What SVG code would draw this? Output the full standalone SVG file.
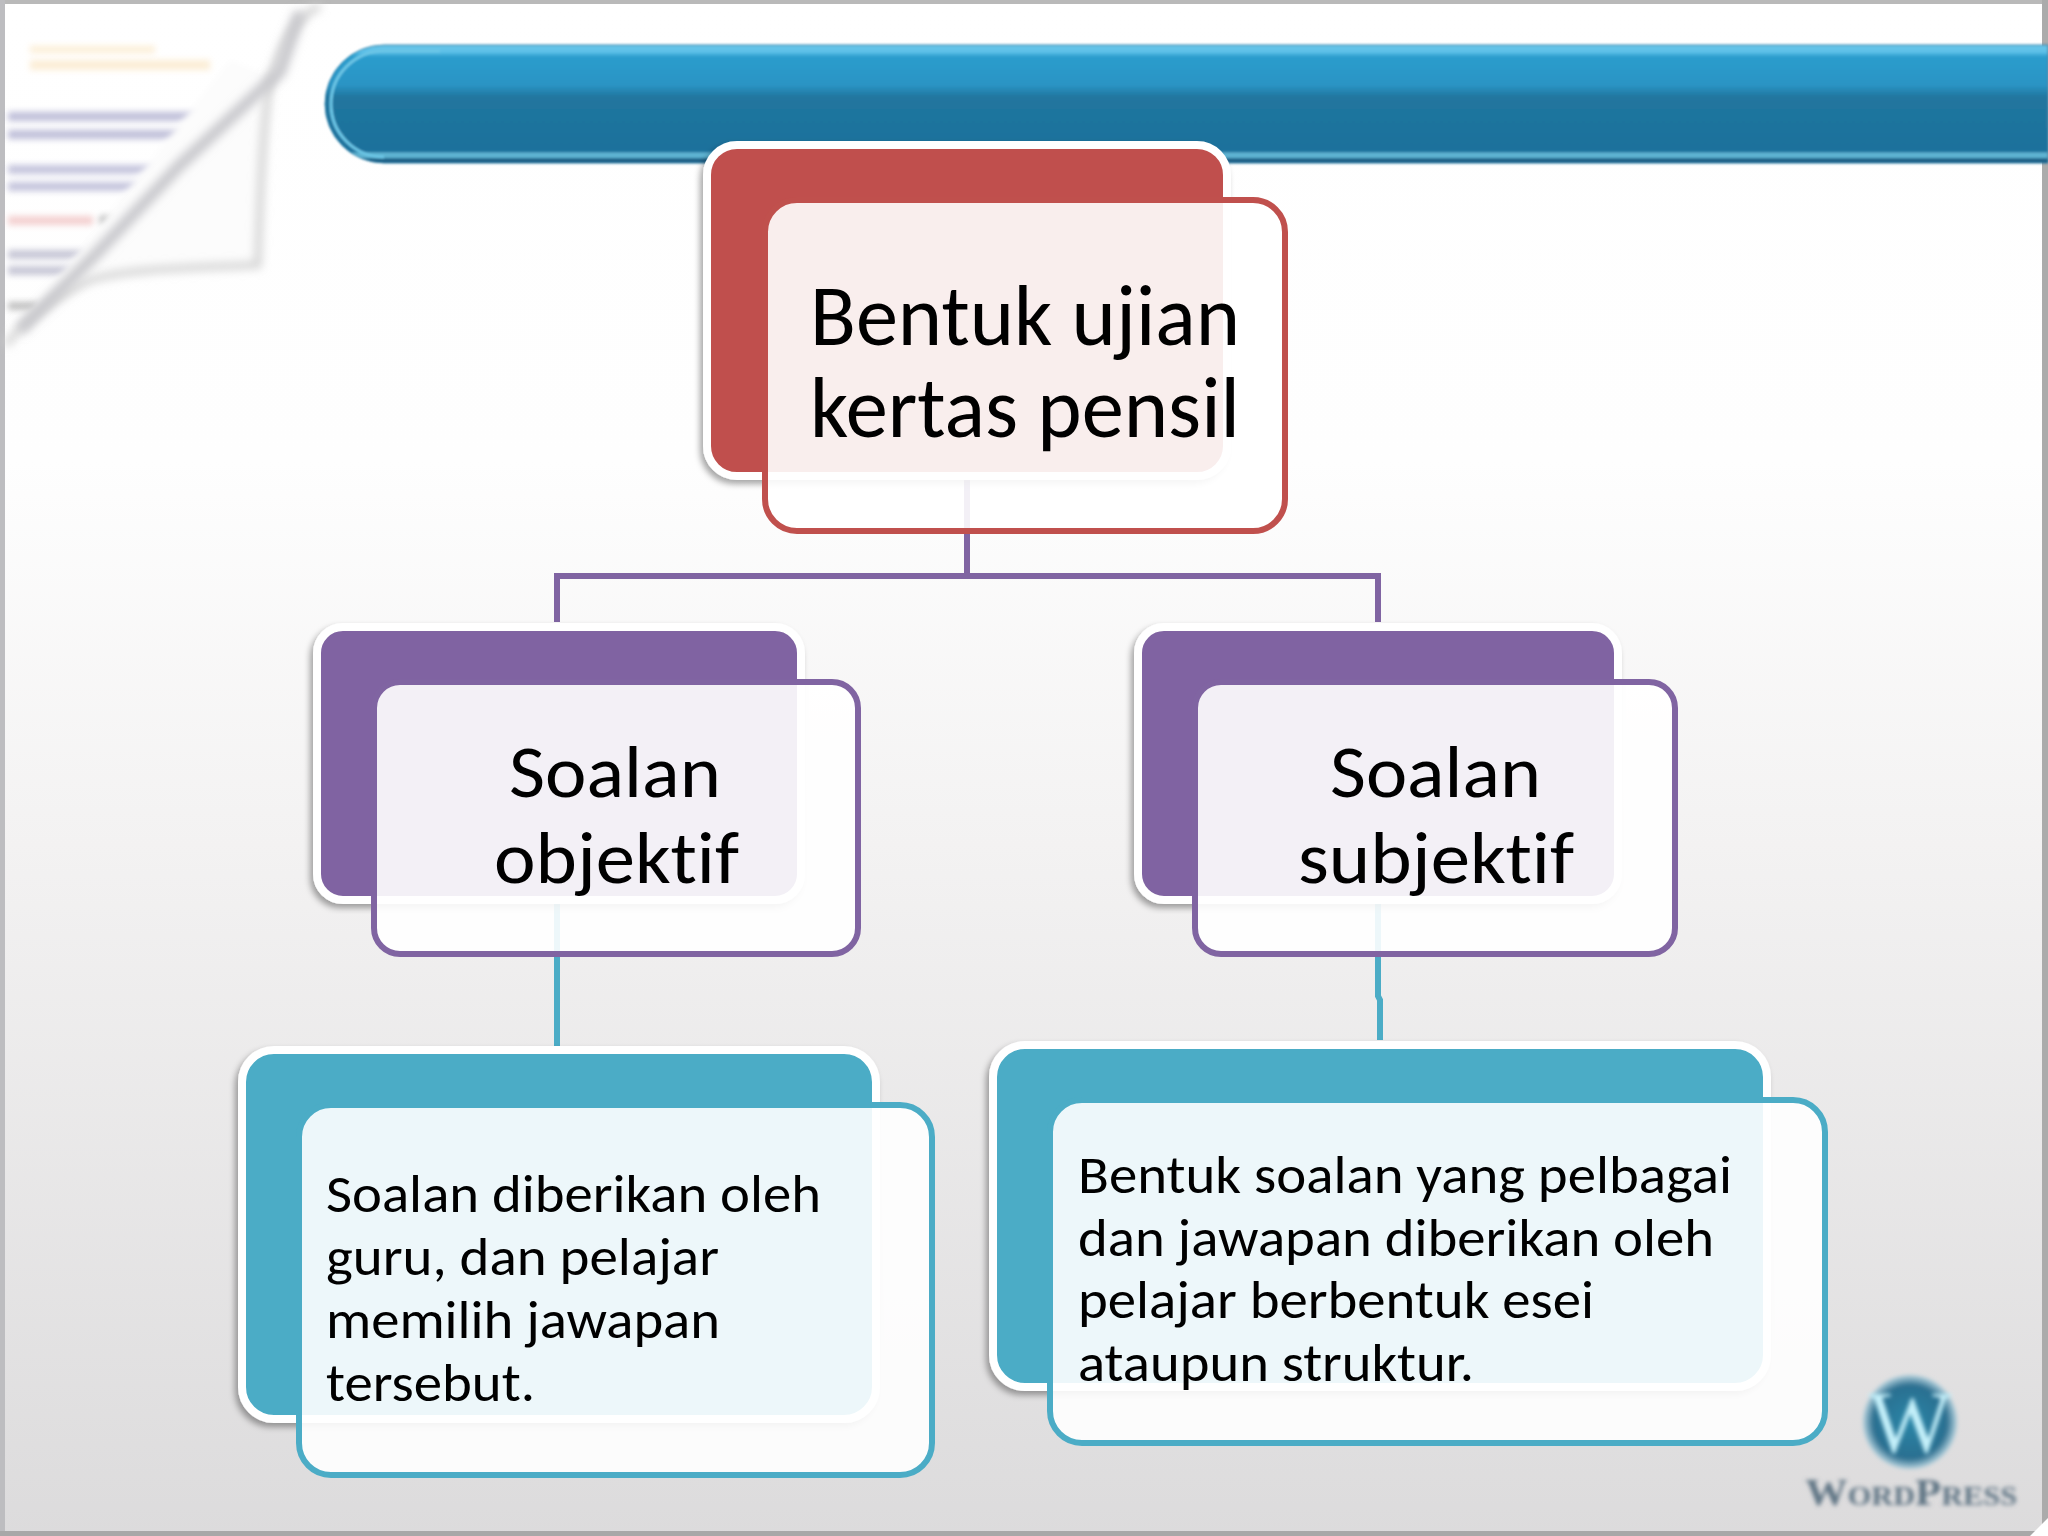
<svg xmlns="http://www.w3.org/2000/svg" width="2048" height="1536" viewBox="0 0 2048 1536">
<style>
.back{stroke:#fff;stroke-width:8}
.front{fill:#fff;fill-opacity:.9;stroke-width:6}
.red{fill:#c0504d}.pur{fill:#8064a2}.teal{fill:#4bacc6}
.sred{stroke:#c0504d}.spur{stroke:#8064a2}.steal{stroke:#4bacc6}
.t{font-family:Carlito,Calibri,Lato,"Open Sans",sans-serif;fill:#000;font-variant-ligatures:none}
.t1{font-size:87px}.t2{font-size:73px}.t3{font-size:54px}
.conn{fill:none;stroke-width:6}
</style>
<defs>
<linearGradient id="bg" x1="0" y1="0" x2="0" y2="1"><stop offset="0" stop-color="#fff"/><stop offset=".3" stop-color="#fefefe"/><stop offset=".55" stop-color="#f3f2f2"/><stop offset="1" stop-color="#dcdbdc"/></linearGradient>
<linearGradient id="ban" x1="0" y1="0" x2="0" y2="1"><stop offset="0" stop-color="#6cc6e8"/><stop offset=".06" stop-color="#5cc0e8"/><stop offset=".1" stop-color="#2c9dcd"/><stop offset=".34" stop-color="#2a94c4"/><stop offset=".44" stop-color="#20769f"/><stop offset=".9" stop-color="#1f719c"/><stop offset=".92" stop-color="#5fb4d2"/><stop offset=".95" stop-color="#5fb4d2"/><stop offset=".97" stop-color="#1a5f85"/><stop offset="1" stop-color="#1a5f85"/></linearGradient>
<radialGradient id="wp"><stop offset="0" stop-color="#2b86a8"/><stop offset=".78" stop-color="#2a6f90"/><stop offset="1" stop-color="#b4d2de"/></radialGradient>
<filter id="b1" x="-5%" y="-20%" width="110%" height="140%"><feGaussianBlur stdDeviation="1.3"/></filter>
<filter id="b2" x="-20%" y="-20%" width="140%" height="140%"><feGaussianBlur stdDeviation="2.2"/></filter>
<filter id="b3" x="-20%" y="-20%" width="140%" height="140%"><feGaussianBlur stdDeviation="3"/></filter>
<filter id="b4" x="-30%" y="-30%" width="160%" height="160%"><feGaussianBlur stdDeviation="5"/></filter>
<filter id="sh" x="-5%" y="-5%" width="110%" height="110%"><feDropShadow dx="-3" dy="4" stdDeviation="3" flood-color="#000" flood-opacity=".35"/></filter>
</defs>

<g id="background">
<rect width="2048" height="1536" fill="url(#bg)"/>
<rect x="0" y="0" width="2048" height="4" fill="#b9b9b9"/>
<rect x="0" y="0" width="5" height="1536" fill="#bdbdc0"/>
<rect x="0" y="1531" width="2048" height="5" fill="#a8a8a8"/>
<rect x="2042" y="0" width="6" height="1536" fill="#ababab"/>
<path d="M2030 1536L2048 1518V1536Z" fill="#fff"/>
</g>

<g id="page-curl">
<g filter="url(#b3)" opacity=".75">
<rect x="30" y="46" width="125" height="7" fill="#fbe8c8"/>
<rect x="30" y="60" width="180" height="10" fill="#fbe8c8"/>
<rect x="8" y="112" width="215" height="9" fill="#a8a8cc"/>
<rect x="8" y="130" width="195" height="9" fill="#a8a8cc"/>
<rect x="8" y="165" width="170" height="9" fill="#b0b0d0"/>
<rect x="8" y="182" width="150" height="9" fill="#b0b0d0"/>
<rect x="8" y="216" width="85" height="9" fill="#f0c0c0"/>
<rect x="100" y="216" width="20" height="9" fill="#909090"/>
<rect x="8" y="250" width="80" height="9" fill="#b4b4c8"/>
<rect x="8" y="266" width="70" height="9" fill="#b4b4c8"/>
<rect x="8" y="302" width="30" height="8" fill="#aaa"/>
</g>
<path d="M275 78L258 265L90 272L10 338L230 60Z" fill="#fcfcfc" filter="url(#b3)"/>
<path d="M320 6C290 20 280 50 270 80C262 130 260 200 258 265C200 268 130 268 90 280C50 300 25 320 6 345" fill="none" stroke="#d2d2d2" stroke-width="7" filter="url(#b4)"/>
<path d="M300 12L280 72L180 165L95 255L20 330" fill="none" stroke="#c8c8cc" stroke-width="12" filter="url(#b4)"/>
</g>

<g id="banner" filter="url(#b1)">
<path d="M2048 45H384A59 59 0 0 0 384 163H2048Z" fill="url(#ban)" stroke="#2a7ea8" stroke-width="1"/>
<path d="M440 51H384A53 53 0 0 0 384 157" fill="none" stroke="#6cc6e6" stroke-width="3"/>
</g>

<g id="connectors">
<path class="conn spur" d="M967 470V576"/>
<path class="conn spur" d="M557 622V576H1378V622"/>
<path class="conn steal" d="M557 896V1046"/>
<path class="conn steal" d="M1378 896V996L1380 1000V1040"/>
</g>

<g id="node-root">
<rect class="back red" x="707" y="145" width="520" height="331" rx="30" filter="url(#sh)"/>
<rect class="front sred" x="765" y="200" width="520" height="331" rx="32"/>
<text class="t t1" x="810" y="345" textLength="430" lengthAdjust="spacingAndGlyphs">Bentuk ujian</text>
<text class="t t1" x="810" y="437" textLength="430" lengthAdjust="spacingAndGlyphs">kertas pensil</text>
</g>

<g id="node-objektif">
<rect class="back pur" x="317" y="627" width="484" height="273" rx="26" filter="url(#sh)"/>
<rect class="front spur" x="374" y="682" width="484" height="272" rx="26"/>
<text class="t t2" x="509" y="797" textLength="212" lengthAdjust="spacingAndGlyphs">Soalan</text>
<text class="t t2" x="494" y="883" textLength="245" lengthAdjust="spacingAndGlyphs">objektif</text>
</g>

<g id="node-subjektif">
<rect class="back pur" x="1138" y="627" width="480" height="273" rx="26" filter="url(#sh)"/>
<rect class="front spur" x="1195" y="682" width="480" height="272" rx="26"/>
<text class="t t2" x="1330" y="797" textLength="211" lengthAdjust="spacingAndGlyphs">Soalan</text>
<text class="t t2" x="1298" y="883" textLength="276" lengthAdjust="spacingAndGlyphs">subjektif</text>
</g>

<g id="node-desc-objektif">
<rect class="back teal" x="242" y="1050" width="634" height="369" rx="32" filter="url(#sh)"/>
<rect class="front steal" x="299" y="1105" width="633" height="370" rx="32"/>
<text class="t t3" x="326" y="1212" textLength="495" lengthAdjust="spacingAndGlyphs">Soalan diberikan oleh</text>
<text class="t t3" x="326" y="1275" textLength="393" lengthAdjust="spacingAndGlyphs">guru, dan pelajar</text>
<text class="t t3" x="326" y="1338" textLength="394" lengthAdjust="spacingAndGlyphs">memilih jawapan</text>
<text class="t t3" x="326" y="1401" textLength="209" lengthAdjust="spacingAndGlyphs">tersebut.</text>
</g>

<g id="node-desc-subjektif">
<rect class="back teal" x="993" y="1045" width="774" height="342" rx="32" filter="url(#sh)"/>
<rect class="front steal" x="1050" y="1100" width="775" height="343" rx="32"/>
<text class="t t3" x="1078" y="1193" textLength="654" lengthAdjust="spacingAndGlyphs">Bentuk soalan yang pelbagai</text>
<text class="t t3" x="1078" y="1256" textLength="636" lengthAdjust="spacingAndGlyphs">dan jawapan diberikan oleh</text>
<text class="t t3" x="1078" y="1318" textLength="516" lengthAdjust="spacingAndGlyphs">pelajar berbentuk esei</text>
<text class="t t3" x="1078" y="1381" textLength="396" lengthAdjust="spacingAndGlyphs">ataupun struktur.</text>
</g>

<g id="logo">
<circle cx="1910" cy="1422" r="47" fill="url(#wp)" filter="url(#b2)"/>
<text x="1910" y="1452" text-anchor="middle" font-family="Liberation Serif,serif" font-size="88" fill="#c4f0fa" filter="url(#b2)">W</text>
<text x="1805" y="1505" font-family="Liberation Serif,serif" font-weight="bold" font-variant="small-caps" font-size="38" fill="#5f7484" textLength="212" lengthAdjust="spacingAndGlyphs" filter="url(#b2)">WordPress</text>
</g>
</svg>
